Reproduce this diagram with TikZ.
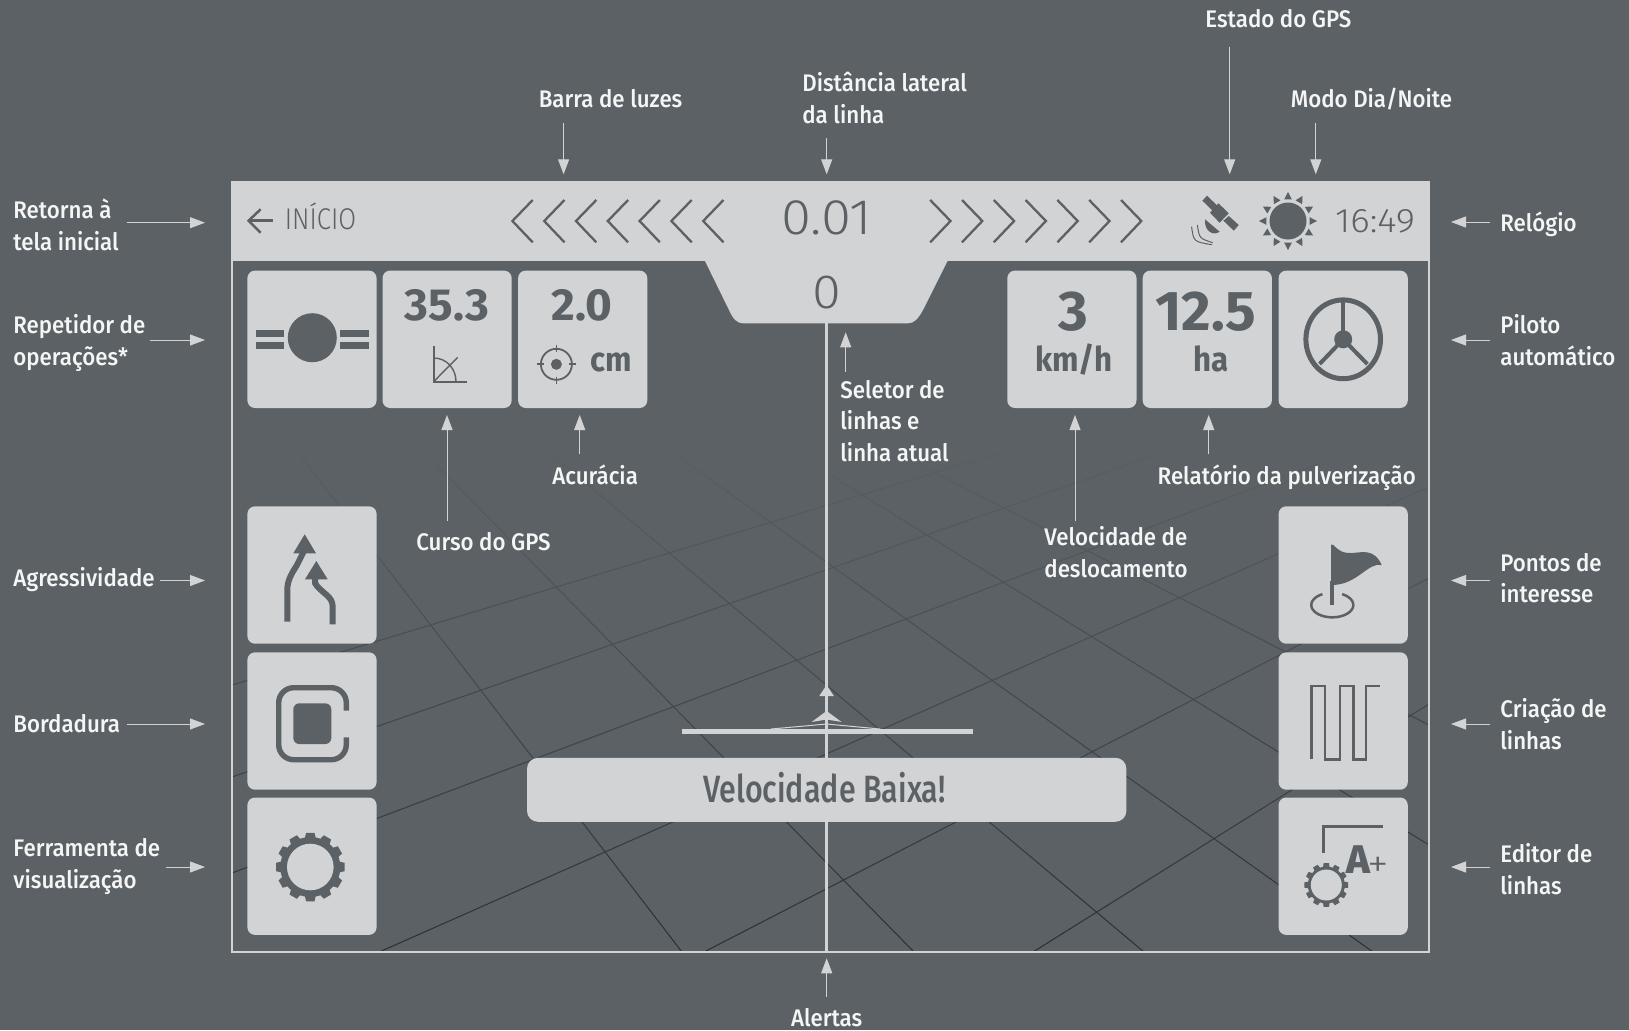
\documentclass[tikz,border=0pt]{standalone}
\usepackage{fontspec}
\usetikzlibrary{arrows.meta}
\setmainfont{Fira Sans}
\newfontfamily\lblf{Fira Sans Medium}[FakeStretch=0.928]
\newfontfamily\alertf{Fira Sans Medium}[FakeStretch=0.80]
\newfontfamily\lightf{Fira Sans Light}[FakeStretch=0.86]
\newfontfamily\lightd{Fira Sans Light}[FakeStretch=1.09]
\newfontfamily\boldf{Fira Sans}[FakeStretch=0.92,BoldFont={Fira Sans Bold}]
\newfontfamily\boldd{Fira Sans}[FakeStretch=1.02,BoldFont={Fira Sans Bold}]
\newfontfamily\heavyf{Fira Sans ExtraBold}
\definecolor{bgc}{HTML}{5C6165}
\definecolor{tilec}{HTML}{D1D3D5}
\definecolor{griddark}{HTML}{2C2F32}
\definecolor{labelc}{HTML}{F4F5F5}
\tikzset{
  tile/.style={fill=tilec,rounded corners=3.8pt,minimum width=64.6pt,minimum height=68.7pt,inner sep=0pt},
  lab/.style={text=labelc,font=\fontsize{12}{15.75}\selectfont\lblf,align=left,inner sep=0pt},
  big/.style={text=bgc,font=\fontsize{#1}{#1}\selectfont\boldf\bfseries,anchor=base,inner sep=0pt},
  bigd/.style={text=bgc,font=\fontsize{#1}{#1}\selectfont\boldd\bfseries,anchor=base,inner sep=0pt},
  thin/.style={text=bgc,font=\fontsize{#1}{#1}\selectfont\lightf,anchor=base,inner sep=0pt},
  thind/.style={text=bgc,font=\fontsize{#1}{#1}\selectfont\lightd,anchor=base,inner sep=0pt},
  conn/.style={draw=tilec,line width=.5pt,-{Triangle[length=7.5pt,width=5.5pt,fill=tilec]}},
  chev/.style={draw=bgc,line width=1.15pt},
  ic/.style={draw=bgc,line width=#1},
  ic/.default=1pt
}
\newcommand\conn[3]{\coordinate (#1a) at (#2);\coordinate (#1b) at (#3);\draw[conn] (#1a) -- (#1b);}
\newcommand\gridln[4]{%
  \foreach \k in {1,...,26}{%
    \pgfmathsetmacro\xa{#1+(#3-#1)/26*(\k-1)}%
    \pgfmathsetmacro\ya{#2+(#4-#2)/26*(\k-1)}%
    \pgfmathsetmacro\xb{#1+(#3-#1)/26*\k}%
    \pgfmathsetmacro\yb{#2+(#4-#2)/26*\k}%
    \pgfmathsetmacro\pp{max(0,min(100,((\ya+\yb)/2-435)/5.25))}%
    \draw[line width=.52pt,line cap=round,color=griddark!\pp!bgc] (\xa,\ya) -- (\xb,\yb);
  }}
% gear: cx cy hole root tip
\newcommand\gearicon[5]{%
  \fill[bgc] (#1,#2) circle[radius=#4];
  \foreach \a in {0,30,...,330}{%
    \fill[bgc] ({#1+(#4-1)*cos(\a-11)},{#2+(#4-1)*sin(\a-11)}) --
      ({#1+#5*cos(\a-7)},{#2+#5*sin(\a-7)}) --
      ({#1+#5*cos(\a+7)},{#2+#5*sin(\a+7)}) --
      ({#1+(#4-1)*cos(\a+11)},{#2+(#4-1)*sin(\a+11)}) -- cycle;
  }
  \fill[tilec] (#1,#2) circle[radius=#3];
}
\begin{document}
\begin{tikzpicture}[x=.5pt,y=-.5pt]
\useasboundingbox (0,0) rectangle (1629,1030);
\fill[bgc] (0,0) rectangle (1629,1030);
% ground grid
\begin{scope}
\clip (232,261) rectangle (1429,952);
\gridln{232}{685}{1000}{453}
\gridln{232}{777}{1150}{457}
\gridln{232}{873}{1320}{463}
\gridln{377}{953}{1429}{487}
\gridln{702}{953}{1429}{578}
\gridln{1033}{952}{1429}{704}
\gridln{300}{455}{682}{952}
\gridln{419}{447}{914}{952}
\gridln{555}{457}{1144}{952}
\gridln{620}{415}{1373}{952}
\gridln{830}{475}{1429}{845}
\gridln{900}{455}{1429}{725}
\end{scope}
% screen frame, header and line selector tab
\draw[tilec,line width=.8pt] (232,182) rectangle (1429,952);
\fill[tilec] (231.6,181.6) rectangle (1429.4,260.7);
\fill[tilec] (704.5,260) -- (729,310) .. controls (733,319) and (737,323.3) .. (743,323.3) -- (908,323.3) .. controls (914,323.3) and (918,319) .. (923,310) -- (948,260) -- cycle;
% guidance line and vehicle
\coordinate (lineTop) at (826.6,323);
\coordinate (lineBot) at (826.6,952);
\draw[tilec,line width=1.5pt] (lineTop) -- (lineBot);
\fill[tilec] (826.6,685) -- (833.9,696) -- (819.3,696) -- cycle;
\fill[tilec] (826.6,711) -- (841.6,722) -- (826.6,719.5) -- (811.6,722) -- cycle;
\draw[tilec,line width=.5pt] (771,729) -- (826.6,724) -- (880,729);
\fill[tilec] (681.6,728.6) rectangle (973,733.6);
% header content
\draw[ic=1.25pt] (272.9,220.7) -- (249,220.7);
\draw[ic=1.25pt] (260.6,209.3) -- (248.6,220.7) -- (260.6,232.7);
\node[thin=15,anchor=base west] (inicio) at (284.5,229) {INÍCIO};
\foreach \i in {0,...,6}{
  \draw[chev] ({512.4+31.8*\i+20.3},200) -- ({512.4+31.8*\i},221) -- ({512.4+31.8*\i+20.3},242.3);
  \draw[chev] ({950.5+31.8*\i-20.3},200) -- ({950.5+31.8*\i},221) -- ({950.5+31.8*\i-20.3},242.3);
}
\node[thind=25] (dist) at (826.6,234) {0.01};
\node[thind=24] (sel) at (826.6,308) {0};
% satellite
\fill[bgc] (1207,195.7) -- (1217.7,206) -- (1212.7,210.7) -- (1202.4,200.7) -- cycle;
\fill[bgc] (1218.4,203.3) -- (1228.8,213.3) -- (1219.6,222.7) -- (1210,212.7) -- cycle;
\fill[bgc] (1228.8,216) -- (1238.7,225) -- (1233.8,230.7) -- (1223.4,220.7) -- cycle;
\fill[bgc] (1205,219.3) -- (1219.6,231.7) .. controls (1214,236) and (1204,232) .. cycle;
\draw[ic=.5pt] (1197.4,225) .. controls (1199.3,238.3) .. (1212.7,242.7);
\draw[ic=.5pt] (1191.6,226.7) .. controls (1193.6,241.7) .. (1212,244.7);
% sun
\fill[bgc] (1288,221) circle[radius=18.5];
\foreach \a in {0,30,...,330}{
  \fill[bgc] ({1288+29*cos(\a)},{221+29*sin(\a)}) -- ({1288+22*cos(\a-10)},{221+22*sin(\a-10)}) -- ({1288+22*cos(\a+10)},{221+22*sin(\a+10)}) -- cycle;
}
\node[thind=17] (clock) at (1375,232) {16:49};
% top tiles
\node[tile] (tRep) at (312,339.3) {};
\node[tile] (tCurso) at (447.1,339.3) {};
\node[tile] (tAcc) at (582.7,339.3) {};
\node[tile] (tVel) at (1071.9,339.3) {};
\node[tile] (tHa) at (1207.3,339.3) {};
\node[tile] (tPil) at (1343.2,339.3) {};
% side tiles
\node[tile] (tAgr) at (312,575) {};
\node[tile] (tBor) at (312,721) {};
\node[tile] (tFer) at (312,866.2) {};
\node[tile] (tPon) at (1343.2,575) {};
\node[tile] (tCri) at (1343.2,721) {};
\node[tile] (tEdi) at (1343.2,866.2) {};
% repeater icon
\fill[bgc] (312.3,337.7) circle[radius=24.5];
\fill[bgc] (256,330) rectangle (284.3,336.7);
\fill[bgc] (256,342) rectangle (284.3,348.7);
\fill[bgc] (340,330) rectangle (368.5,336.7);
\fill[bgc] (340,342) rectangle (368.5,348.7);
% gps course
\node[bigd=22.5] (vCurso) at (447,320.5) {35.3};
\draw[ic=1pt] (433.6,346) -- (433.6,381.7) -- (466.5,381.7);
\draw[ic=.7pt] (433.6,381.7) -- (457.7,357.3);
\draw[ic=.7pt] (433.6,358) .. controls (447,358) and (456,369) .. (456,381.7);
% accuracy
\node[bigd=22.5] (vAcc) at (582,320.5) {2.0};
\draw[ic=.9pt] (556.4,364.3) circle[radius=15.5];
\fill[bgc] (556.4,364.3) circle[radius=5.5];
\draw[ic=.9pt] (556.4,344.5) -- (556.4,352);
\draw[ic=.9pt] (556.4,376.5) -- (556.4,384);
\draw[ic=.9pt] (537,364.3) -- (544,364.3);
\draw[ic=.9pt] (569,364.3) -- (576,364.3);
\node[big=17] (uAcc) at (611,371.7) {cm};
% speed, area
\node[bigd=28] (vVel) at (1073,330.7) {3};
\node[big=17] (uVel) at (1074,371.7) {km/h};
\node[bigd=28] (vHa) at (1205.6,330.7) {12.5};
\node[big=17] (uHa) at (1210.8,371.7) {ha};
% steering wheel
\draw[ic=2.5pt] (1343.2,339.3) ellipse[x radius=37.3,y radius=39.4];
\fill[bgc] (1343.2,339.3) circle[radius=9];
\draw[ic=2pt] (1343.2,339.3) -- (1343.2,301);
\draw[ic=2pt] (1343.2,339.3) -- (1319.6,364);
\draw[ic=2pt] (1343.2,339.3) -- (1367.3,364);
% aggressiveness icon
\draw[ic=3pt] (287.3,621.7) -- (287.3,590) .. controls (287.3,580) and (292,573) .. (297,565) -- (303.5,552);
\fill[bgc] (304.7,534.3) -- (316,553.3) -- (293.3,553.3) -- cycle;
\draw[ic=3pt] (332.7,624.3) -- (332.7,607) .. controls (332.7,601) and (330,598) .. (326.7,595) .. controls (322,591) and (317,587) .. (315,583) -- (315,578);
\fill[bgc] (316.3,561) -- (327.7,579.3) -- (305,579.3) -- cycle;
% boundary icon
\draw[ic=2.7pt,rounded corners=7.5pt] (346.3,710.7) -- (346.3,687.7) -- (278.7,687.7) -- (278.7,759.7) -- (346.3,759.7) -- (346.3,737.3);
\fill[bgc,rounded corners=3pt] (293.3,703.3) rectangle (331.3,744);
% gear icon
\gearicon{310.3}{867}{23.3}{30}{34.5}
% points of interest icon
\fill[bgc] (1331,544.5) -- (1333.3,545) .. controls (1340,552) and (1345,553.5) .. (1352,553) .. controls (1362,552.5) and (1374,548) .. (1381.7,565) .. controls (1368,562) and (1358,584) .. (1333.3,585) -- (1331,585) -- cycle;
\draw[ic=2pt] (1331.7,581) -- (1331.7,605);
\draw[ic=1.25pt] plot[domain=-62:242,samples=50,smooth] ({1332.3+21*cos(\x)},{605+12.3*sin(\x)});
% lines icon
\draw[ic=1.35pt] (1311.7,759.3) -- (1311.7,686) -- (1325,686) -- (1325,759.3) -- (1340,759.3) -- (1340,686) -- (1353.3,686) -- (1353.3,759.3) -- (1366,759.3) -- (1366,686) -- (1380,686);
% editor icon
\draw[ic=1.35pt] (1323.3,853.3) -- (1323.3,826.7) -- (1383.3,826.7);
\gearicon{1326.3}{885}{15.5}{18.5}{22}
\node[text=bgc,font=\fontsize{20}{20}\selectfont\heavyf,anchor=base,inner sep=0pt] (letterA) at (1358.5,873) {A};
\node[thind=20] (plusA) at (1378.5,877) {+};
% alert
\node[fill=tilec,rounded corners=5.5pt,minimum width=299.7pt,minimum height=32pt,inner sep=0pt] (alert) at (826.7,789.8) {};
\node[anchor=base,inner sep=0pt,text=bgc,font=\fontsize{19}{19}\selectfont\alertf] (alertT) at (824.5,802.7) {Velocidade Baixa!};
% labels
\node[lab,anchor=base west] (lEst) at (1205,27) {Estado do GPS};
\node[lab,anchor=base west] (lBar) at (538.4,107) {Barra de luzes};
\node[lab,anchor=base west] (lDis) at (802,123) {Distância lateral\\da linha};
\node[lab,anchor=base west] (lMod) at (1290.5,107) {Modo Dia/Noite};
\node[lab,anchor=base west] (lRet) at (13,250) {Retorna à\\tela inicial};
\node[lab,anchor=base west] (lRep) at (13,365) {Repetidor de\\operações*};
\node[lab,anchor=base west] (lAgr) at (13,586.5) {Agressividade};
\node[lab,anchor=base west] (lBor) at (13,732) {Bordadura};
\node[lab,anchor=base west] (lFer) at (13,888) {Ferramenta de\\visualização};
\node[lab,anchor=base west] (lRel) at (1500,231) {Relógio};
\node[lab,anchor=base west] (lPil) at (1500,365) {Piloto\\automático};
\node[lab,anchor=base west] (lPon) at (1500,602.5) {Pontos de\\interesse};
\node[lab,anchor=base west] (lCri) at (1500,749) {Criação de\\linhas};
\node[lab,anchor=base west] (lEdi) at (1500,894) {Editor de\\linhas};
\node[lab,anchor=base west] (lCur) at (416,550) {Curso do GPS};
\node[lab,anchor=base west] (lAcu) at (552,484.7) {Acurácia};
\node[lab,anchor=base west] (lSel) at (840,461.2) {Seletor de\\linhas e\\linha atual};
\node[lab,anchor=base west] (lVel) at (1044,577.3) {Velocidade de\\deslocamento};
\node[lab,anchor=base west] (lRelP) at (1157.3,484.7) {Relatório da pulverização};
\node[lab,anchor=base] (lAle) at (826.7,1026) {Alertas};
% connectors
\conn{cBar}{563.6,123}{563.6,174.3}
\conn{cDis}{826.7,137.7}{826.7,174.3}
\conn{cEst}{1229.7,47}{1229.7,174.3}
\conn{cMod}{1315.8,123}{1315.8,174.3}
\conn{cRet}{127,222.7}{205,222.7}
\conn{cRep}{150,340}{205,340}
\conn{cAgr}{160,580.5}{205,580.5}
\conn{cBor}{127,724}{205,724}
\conn{cFer}{166,867}{205,867}
\conn{cRel}{1490,222}{1451,222}
\conn{cPil}{1490,340}{1451,340}
\conn{cPon}{1490,580.5}{1451,580.5}
\conn{cCri}{1490,724}{1451,724}
\conn{cEdi}{1490,867}{1451,867}
\conn{cCur}{447,520.7}{447,415}
\conn{cAcu}{579.7,454.3}{579.7,415}
\conn{cSel}{845.7,371.7}{845.7,332.3}
\conn{cVel}{1075,521}{1075,415}
\conn{cRelP}{1208.7,454.3}{1208.7,415}
\conn{cAle}{826.7,997}{826.7,958.3}
\end{tikzpicture}
\end{document}
